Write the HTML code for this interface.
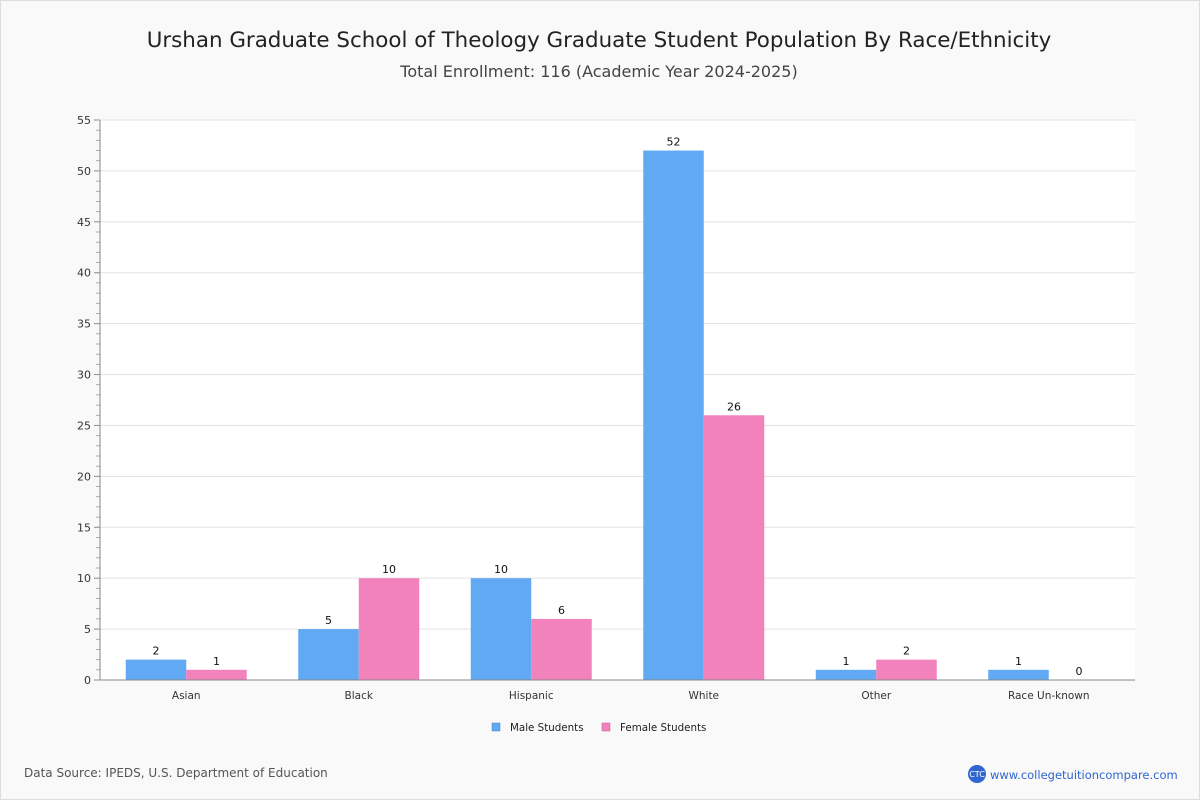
<!DOCTYPE html>
<html><head><meta charset="utf-8"><style>
body{margin:0;background:#fff;font-family:"Liberation Sans","DejaVu Sans",sans-serif}
#wrap{position:relative;width:1198px;height:798px;border:1px solid #ddd;background:#f9f9f9}
</style></head><body>
<div id="wrap">
<svg id="chart" width="1198" height="798" xmlns="http://www.w3.org/2000/svg" font-family="DejaVu Sans, Liberation Sans, sans-serif">
<text x="598" y="46" text-anchor="middle" font-size="21.4" fill="#222">Urshan Graduate School of Theology Graduate Student Population By Race/Ethnicity</text>
<text x="598" y="76" text-anchor="middle" font-size="16" fill="#444">Total Enrollment: 116 (Academic Year 2024-2025)</text>
<rect x="99" y="119" width="1035" height="560" fill="#fff"/>
<g id="grid"></g><g id="bars"></g><g id="axes"></g>
<g>
<rect x="491" y="722" width="8" height="8" fill="#62a9f4" stroke="#3f7fc4" stroke-width="0.5"/>
<text x="509" y="730" font-size="10.3" fill="#222">Male Students</text>
<rect x="601" y="722" width="8" height="8" fill="#f282bc" stroke="#c4588f" stroke-width="0.5"/>
<text x="619" y="730" font-size="10.3" fill="#222">Female Students</text>
</g>
<text x="23" y="776" font-size="12" fill="#555">Data Source: IPEDS, U.S. Department of Education</text>
<circle cx="976" cy="773" r="9" fill="#2f66d0"/>
<text x="976" y="776" text-anchor="middle" font-size="8" fill="#fff">CTC</text>
<text x="989" y="778" font-size="11.5" fill="#2f66d0">www.collegetuitioncompare.com</text>
</svg></div>
<script>
const categories=["Asian","Black","Hispanic","White","Other","Race Un-known"];
const maleValues=[2,5,10,52,1,1];
const femaleValues=[1,10,6,26,2,0];
const yTicks=[0,5,10,15,20,25,30,35,40,45,50,55];
const NS="http://www.w3.org/2000/svg";
const X0=99,X1=1134,Y0=679,Y1=119,YMAX=55;
const y=v=>Y0-(v/YMAX)*(Y0-Y1);
const band=(X1-X0)/categories.length;
const xc=i=>X0+band*(i+0.5);
function mk(tag,attrs,parent,text){const e=document.createElementNS(NS,tag);for(const k in attrs)e.setAttribute(k,attrs[k]);if(text!==undefined)e.textContent=text;parent.appendChild(e);return e;}
const grid=document.getElementById('grid'),bars=document.getElementById('bars'),axes=document.getElementById('axes');
yTicks.forEach(t=>{
  const l=mk('line',{x1:X0,x2:X1,y1:y(t),y2:y(t),stroke:'#e3e3e3'},grid);
  
  
  const tx=mk('text',{x:90,y:y(t)+4,'text-anchor':'end','font-size':11,fill:'#333'},axes,t);
  
  
  mk('line',{x1:93,x2:X0,y1:y(t),y2:y(t),stroke:'#888'},axes);
});
for(let v=0;v<=YMAX;v++){mk('line',{x1:95,x2:X0,y1:y(v),y2:y(v),stroke:'#999','stroke-width':0.8},axes);}
mk('line',{x1:X0,x2:X0,y1:Y1,y2:Y0,stroke:'#888'},axes);
mk('line',{x1:X0,x2:X1,y1:Y0,y2:Y0,stroke:'#888'},axes);
const bw=60.5;
categories.forEach((c,i)=>{
  const cx=xc(i);
  [[maleValues[i],cx-bw,'#62a9f4','male'],[femaleValues[i],cx,'#f282bc','female']].forEach(([v,x,col,s])=>{
    const r=mk('rect',{x:x,y:y(v),width:bw,height:Y0-y(v),fill:col},bars);
    
    
    const t=mk('text',{x:x+bw/2,y:y(v)-5,'text-anchor':'middle','font-size':11,fill:'#111'},bars,v);
    
    
  });
  const xl=mk('text',{x:cx,y:698,'text-anchor':'middle','font-size':10.5,fill:'#333'},axes,c);
  
  
});
</script>
</body></html>
